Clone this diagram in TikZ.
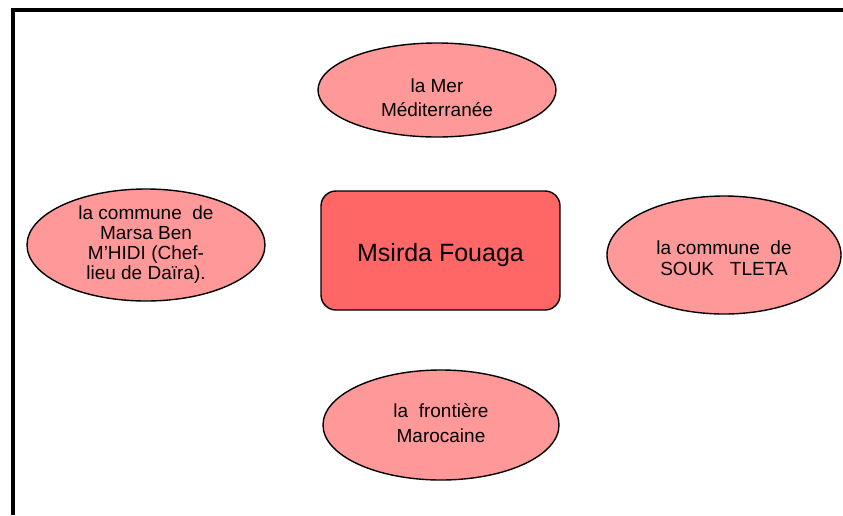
\documentclass[tikz,border=0pt]{standalone}
\usepackage{fontspec}
\setmainfont{Liberation Sans}
\usetikzlibrary{shapes.geometric}
\definecolor{MFRed}{RGB}{255,102,102}
\definecolor{MFPink}{RGB}{255,153,153}

\begin{document}
\begin{tikzpicture}[x=1pt,y=-1pt,
    voisin/.style={ellipse,draw=black,line width=1.4pt,fill=MFPink,inner sep=0pt,minimum width=238pt},
    centre/.style={rectangle,rounded corners=15pt,draw=black,line width=1.4pt,fill=MFRed,
      minimum width=239pt,minimum height=119pt},
    legende/.style={align=center,inner sep=0pt,font=\fontsize{19}{24}\selectfont}]
  \useasboundingbox (0,0) rectangle (843,515);
  % cadre
  \draw[line width=4pt] (13,515) -- (13,10) -- (843,10);
  % commune au centre
  \node[centre] (msirda) at (440.5,250.5) {};
  \node[inner sep=0pt,font=\fontsize{25}{30}\selectfont] (msirdatxt) at (440.5,255.5) {Msirda Fouaga};
  % limites
  \node[voisin,minimum height=94pt] (nord) at (437,90) {};
  \node[legende] (nordtxt) at (437,98) {la Mer\\Méditerranée};
  \node[voisin,minimum height=112pt] (ouest) at (146,245) {};
  \node[legende,font=\fontsize{19}{20}\selectfont] (ouesttxt) at (146,245)
    {la commune~ de\\Marsa Ben\\M’HIDI (Chef-\\lieu de Daïra).};
  \node[voisin,minimum height=118pt,minimum width=234pt] (est) at (724,255) {};
  \node[legende,font=\fontsize{19}{21.5}\selectfont] (esttxt) at (724,258) {la commune~ de\\SOUK~~ TLETA};
  \node[voisin,minimum height=110pt,minimum width=236pt] (sud) at (441,425) {};
  \node[legende,font=\fontsize{19}{25}\selectfont] (sudtxt) at (441,423) {la~ frontière\\Marocaine};
\end{tikzpicture}
\end{document}
